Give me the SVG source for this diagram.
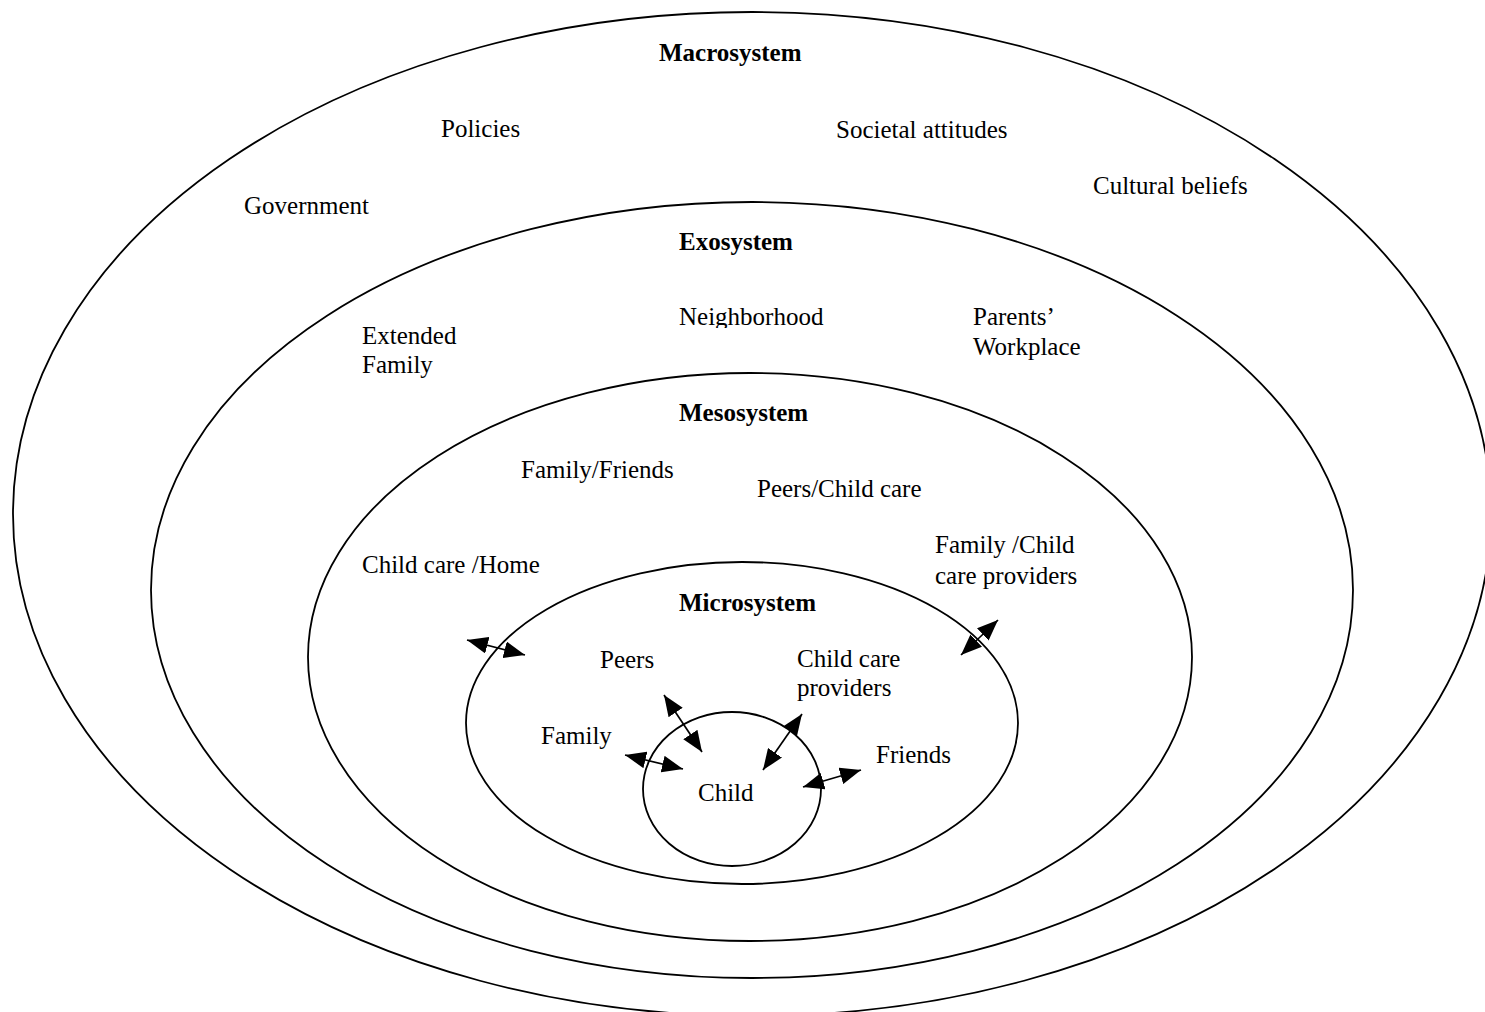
<svg xmlns="http://www.w3.org/2000/svg" width="1485" height="1012" viewBox="0 0 1485 1012">
<style>
.ring{fill:none;stroke:#000;stroke-width:1.8}
.t{font-family:"Liberation Serif","Times New Roman",serif;font-size:25px;fill:#000}
.b{font-weight:bold}
.c{stroke:#000;stroke-width:1.7;fill:none;marker-start:url(#ah);marker-end:url(#ah)}
</style>
<defs>
<marker id="ah" markerUnits="userSpaceOnUse" markerWidth="21" markerHeight="17" refX="21" refY="8.5" orient="auto-start-reverse" viewBox="0 0 21 17">
<path d="M0,0 L21,8.5 L0,17 z" fill="#000"/>
</marker>
<clipPath id="nclip"><rect x="670" y="290" width="170" height="38"/></clipPath>
</defs>
<rect width="1485" height="1012" fill="#fff"/>
<g id="macrosystem">
<ellipse class="ring" cx="752" cy="514" rx="739" ry="502"/>
<text class="t b" x="659" y="61">Macrosystem</text>
<text class="t" x="441" y="137">Policies</text>
<text class="t" x="836" y="138">Societal attitudes</text>
<text class="t" x="1093" y="194">Cultural beliefs</text>
<text class="t" x="244" y="214">Government</text>
</g>
<g id="exosystem">
<ellipse class="ring" cx="752" cy="590" rx="601" ry="388"/>
<text class="t b" x="679" y="250">Exosystem</text>
<text class="t" x="362" y="344">Extended</text>
<text class="t" x="362" y="373">Family</text>
<text class="t" x="679" y="325" clip-path="url(#nclip)">Neighborhood</text>
<text class="t" x="973" y="325">Parents’</text>
<text class="t" x="973" y="355">Workplace</text>
</g>
<g id="mesosystem">
<ellipse class="ring" cx="750" cy="657" rx="442" ry="284"/>
<text class="t b" x="679" y="421">Mesosystem</text>
<text class="t" x="521" y="478">Family/Friends</text>
<text class="t" x="757" y="497">Peers/Child care</text>
<text class="t" x="362" y="573">Child care /Home</text>
<text class="t" x="935" y="553">Family /Child</text>
<text class="t" x="935" y="584">care providers</text>
</g>
<g id="microsystem">
<ellipse class="ring" cx="742" cy="723" rx="276" ry="161"/>
<text class="t b" x="679" y="611">Microsystem</text>
<text class="t" x="600" y="668">Peers</text>
<text class="t" x="797" y="667">Child care</text>
<text class="t" x="797" y="696">providers</text>
<text class="t" x="541" y="744">Family</text>
<text class="t" x="876" y="763">Friends</text>
</g>
<g id="child">
<ellipse class="ring" cx="732" cy="789" rx="89" ry="77"/>
<text class="t" x="698" y="801">Child</text>
</g>
<g id="connectors">
<line class="c" x1="467" y1="640" x2="525" y2="655"/>
<line class="c" x1="998" y1="620" x2="961" y2="655"/>
<line class="c" x1="664" y1="695" x2="702" y2="752"/>
<line class="c" x1="625" y1="755" x2="683" y2="769"/>
<line class="c" x1="802" y1="714" x2="763" y2="770"/>
<line class="c" x1="803" y1="787" x2="861" y2="770"/>
</g>
</svg>
